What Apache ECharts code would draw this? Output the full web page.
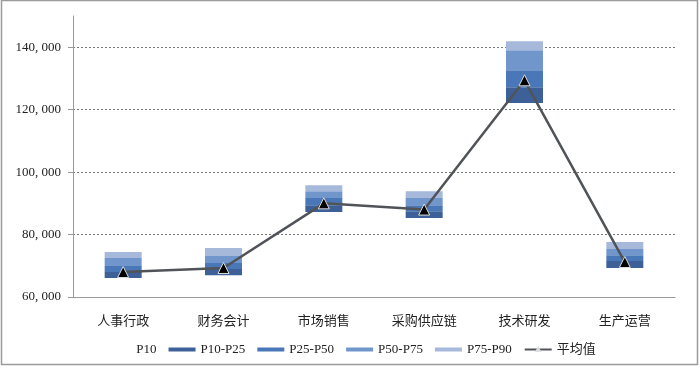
<!DOCTYPE html>
<html><head><meta charset="utf-8">
<script src="https://cdn.jsdelivr.net/npm/echarts@6/dist/echarts.min.js"></script>
<style>html,body{margin:0;padding:0;background:#fff}#c{width:700px;height:369px}</style>
</head><body><div id="c"></div>
<script>
const categories = ['人事行政','财务会计','市场销售','采购供应链','技术研发','生产运营'];
const p10 = [66100, 67000, 87200, 85300, 122100, 69300];
const p25 = [68000, 69000, 89400, 87500, 127200, 71500];
const p50 = [69900, 70900, 91700, 89400, 132600, 73400];
const p75 = [72500, 73100, 93900, 91700, 139000, 75400];
const p90 = [74400, 75700, 95800, 93900, 141900, 77600];
const mean = [68000, 69300, 90000, 88000, 129400, 71200];
const yTicks = [60000, 80000, 100000, 120000, 140000];

const diff = (a, b) => a.map((v, i) => +(v - b[i]).toFixed(0));
const serifFont = '"Liberation Serif","DejaVu Serif","Noto Sans CJK SC",serif';
const colors = ['#3d6099', '#4a77b7', '#7196cc', '#a7b9da'];
const chart = echarts.init(document.getElementById('c'));
const barBase = { type: 'bar', stack: 's', barWidth: 37 };
chart.setOption({
  animation: false,
  textStyle: { fontFamily: serifFont },
  grid: { left: 73, right: 25, top: 16, bottom: 72, containLabel: false },
  legend: {
    bottom: 8, left: 'center', itemWidth: 27, itemHeight: 4, itemGap: 12,
    textStyle: { fontFamily: serifFont, fontSize: 13, color: '#222' },
    data: [
      { name: 'P10', icon: 'rect', itemStyle: { color: 'rgba(0,0,0,0)' } },
      { name: 'P10-P25', icon: 'rect' }, { name: 'P25-P50', icon: 'rect' },
      { name: 'P50-P75', icon: 'rect' }, { name: 'P75-P90', icon: 'rect' }, '平均值'
    ]
  },
  xAxis: {
    type: 'category', data: categories,
    axisLine: { lineStyle: { color: '#999' } },
    axisTick: { show: false },
    axisLabel: { color: '#222', fontSize: 13, margin: 17, fontFamily: '"Noto Sans CJK SC",serif' }
  },
  yAxis: {
    type: 'value', min: yTicks[0], max: 150000, interval: 20000,
    axisLine: { show: true, lineStyle: { color: '#999' } },
    axisTick: { show: true, length: 5, lineStyle: { color: '#999' } },
    splitLine: { show: true, showMaxLine: false, lineStyle: { color: '#777', type: [2, 2], width: 1 } },
    axisLabel: {
      showMaxLabel: false, color: '#222', fontSize: 13, margin: 12,
      formatter: v => yTicks.includes(v) ? (v / 1000) + ', 000' : ''
    }
  },
  series: [
    { ...barBase, name: 'P10', data: p10, itemStyle: { color: 'rgba(0,0,0,0)' } },
    { ...barBase, name: 'P10-P25', data: diff(p25, p10), itemStyle: { color: colors[0] } },
    { ...barBase, name: 'P25-P50', data: diff(p50, p25), itemStyle: { color: colors[1] } },
    { ...barBase, name: 'P50-P75', data: diff(p75, p50), itemStyle: { color: colors[2] } },
    { ...barBase, name: 'P75-P90', data: diff(p90, p75), itemStyle: { color: colors[3] } },
    { type: 'line', name: '平均值', data: mean, symbol: 'triangle', symbolSize: 11,
      lineStyle: { color: '#505358', width: 2.5 },
      itemStyle: { color: '#000', borderColor: '#ddd', borderWidth: 1 }, z: 5 }
  ],
  graphic: [{ type: 'rect', shape: { x: 1.5, y: 0.5, width: 696, height: 364 },
    style: { fill: 'none', stroke: '#9a9a9a', lineWidth: 1.5 }, silent: true }]
});
</script></body></html>
